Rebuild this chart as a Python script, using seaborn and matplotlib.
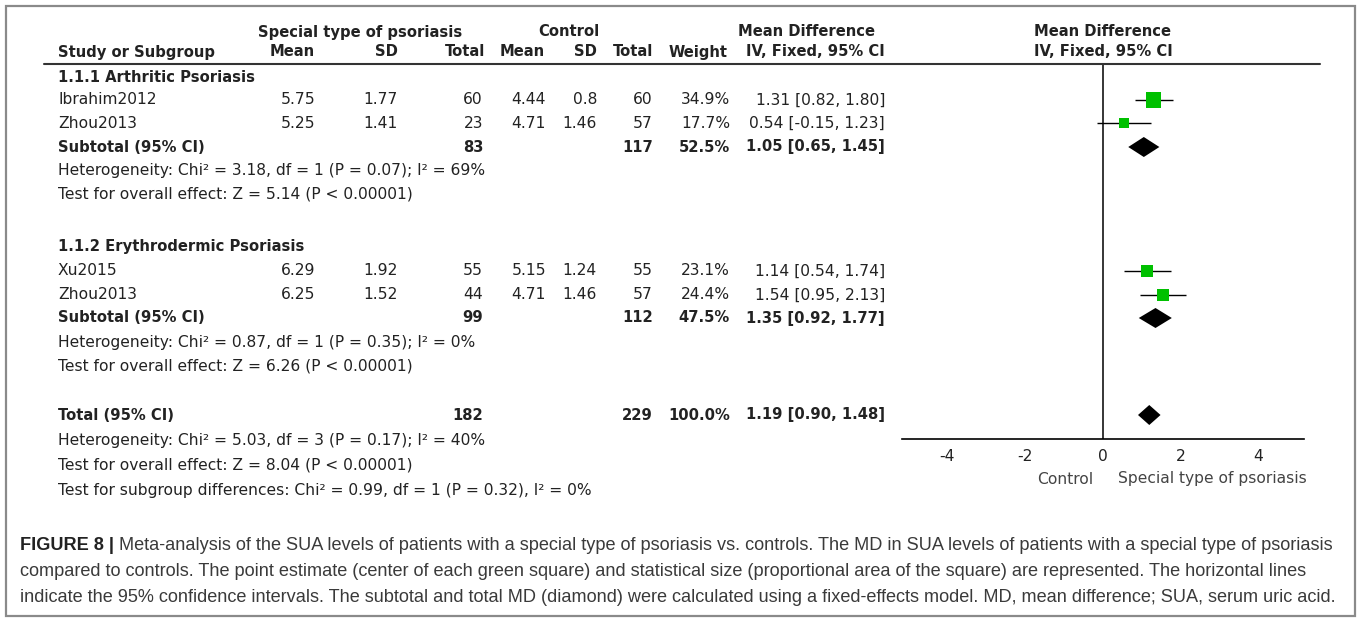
import matplotlib
matplotlib.use('Agg')
import matplotlib.pyplot as plt
import seaborn as sns
import pandas as pd
from matplotlib.lines import Line2D
from matplotlib.patches import Rectangle

# ---- data ----
groups = ['1.1.1 Arthritic Psoriasis', '1.1.2 Erythrodermic Psoriasis']
studies = ['Ibrahim2012', 'Zhou2013', 'Xu2015', 'Zhou2013']
study_group = [0, 0, 1, 1]
exp_mean = ['5.75', '5.25', '6.29', '6.25']
exp_sd = ['1.77', '1.41', '1.92', '1.52']
exp_n = [60, 23, 55, 44]
ctl_mean = ['4.44', '4.71', '5.15', '4.71']
ctl_sd = ['0.8', '1.46', '1.24', '1.46']
ctl_n = [60, 57, 55, 57]
weights = [34.9, 17.7, 23.1, 24.4]
md = [1.31, 0.54, 1.14, 1.54]
ci_lo = [0.82, -0.15, 0.54, 0.95]
ci_hi = [1.80, 1.23, 1.74, 2.13]

pooled_labels = ['Subtotal (95% CI)', 'Subtotal (95% CI)', 'Total (95% CI)']
pooled_exp_n = [83, 99, 182]
pooled_ctl_n = [117, 112, 229]
pooled_w = [52.5, 47.5, 100.0]
pooled_md = [1.05, 1.35, 1.19]
pooled_lo = [0.65, 0.92, 0.90]
pooled_hi = [1.45, 1.77, 1.48]

het_lines = [
    ['Heterogeneity: Chi\u00b2 = 3.18, df = 1 (P = 0.07); I\u00b2 = 69%',
     'Test for overall effect: Z = 5.14 (P < 0.00001)'],
    ['Heterogeneity: Chi\u00b2 = 0.87, df = 1 (P = 0.35); I\u00b2 = 0%',
     'Test for overall effect: Z = 6.26 (P < 0.00001)'],
    ['Heterogeneity: Chi\u00b2 = 5.03, df = 3 (P = 0.17); I\u00b2 = 40%',
     'Test for overall effect: Z = 8.04 (P < 0.00001)',
     'Test for subgroup differences: Chi\u00b2 = 0.99, df = 1 (P = 0.32), I\u00b2 = 0%'],
]

xticks = [-4, -2, 0, 2, 4]
favours = ['Control', 'Special type of psoriasis']

caption_bold = 'FIGURE 8 | '
caption = [
    'Meta-analysis of the SUA levels of patients with a special type of psoriasis vs. controls. '
    'The MD in SUA levels of patients with a special type of psoriasis',
    'compared to controls. The point estimate (center of each green square) and statistical size '
    '(proportional area of the square) are represented. The horizontal lines',
    'indicate the 95% confidence intervals. The subtotal and total MD (diamond) were calculated '
    'using a fixed-effects model. MD, mean difference; SUA, serum uric acid.',
]

# ---- layout (pixel rows of the 1357x618 picture) ----
W, H = 1357, 618
group_y = [78, 247]
study_y = [100, 123, 271, 295]
pooled_y = [147, 318, 415]
het_y = [[171, 194], [342, 366], [441, 465, 490]]

sns.set_style('white')
plt.rcParams['font.family'] = ['DejaVu Sans']

fig = plt.figure(figsize=(W / 100, H / 100), dpi=100)


def fx(px):
    return px / W


def fy(py):
    return 1 - py / H


TXT = '#222222'
FS = 11.2
BFS = 10.6


def put(px, py, s, ha='left', bold=False, color=TXT, size=FS):
    fig.text(fx(px), fy(py), s, ha=ha, va='center', fontsize=size,
             fontweight='bold' if bold else 'normal', color=color)


# outer frame
fig.add_artist(Rectangle((fx(6), fy(616)), fx(1349), 610 / H, transform=fig.transFigure,
                         fill=False, edgecolor='#8a8a8a', lw=1.6))

# headers
put(360, 32, 'Special type of psoriasis', ha='center', bold=True, size=BFS)
put(569, 32, 'Control', ha='center', bold=True, size=BFS)
put(807, 32, 'Mean Difference', ha='center', bold=True, size=BFS)
put(1103, 32, 'Mean Difference', ha='center', bold=True, size=BFS)
put(58, 52, 'Study or Subgroup', bold=True, size=BFS)
for x, s in zip([315, 398, 485, 545, 597, 653, 728, 885],
                ['Mean', 'SD', 'Total', 'Mean', 'SD', 'Total', 'Weight', 'IV, Fixed, 95% CI']):
    put(x, 52, s, ha='right', bold=True, size=BFS)
put(1103, 52, 'IV, Fixed, 95% CI', ha='center', bold=True, size=BFS)
fig.add_artist(Line2D([fx(44), fx(1320)], [fy(64), fy(64)], transform=fig.transFigure,
                      color='#333333', lw=1.5))

cols = [315, 398, 483, 546, 597, 653, 730, 885]

# study rows
for g in range(len(groups)):
    put(58, group_y[g], groups[g], bold=True, size=BFS)
for i in range(len(studies)):
    y = study_y[i]
    put(58, y, studies[i])
    vals = [exp_mean[i], exp_sd[i], str(exp_n[i]), ctl_mean[i], ctl_sd[i], str(ctl_n[i]),
            f'{weights[i]:.1f}%', f'{md[i]:.2f} [{ci_lo[i]:.2f}, {ci_hi[i]:.2f}]']
    for x, s in zip(cols, vals):
        put(x, y, s, ha='right')

# pooled rows
for k in range(len(pooled_labels)):
    y = pooled_y[k]
    put(58, y, pooled_labels[k], bold=True, size=BFS)
    put(cols[2], y, str(pooled_exp_n[k]), ha='right', bold=True, size=BFS)
    put(cols[5], y, str(pooled_ctl_n[k]), ha='right', bold=True, size=BFS)
    put(cols[6], y, f'{pooled_w[k]:.1f}%', ha='right', bold=True, size=BFS)
    put(cols[7], y, f'{pooled_md[k]:.2f} [{pooled_lo[k]:.2f}, {pooled_hi[k]:.2f}]',
        ha='right', bold=True, size=BFS)
    for s, yy in zip(het_lines[k], het_y[k]):
        put(58, yy, s)

# ---- forest plot ----
ax = fig.add_axes([fx(902), fy(439), fx(1304) - fx(902), (439 - 64) / H])
ax.set_xlim(-5.17, 5.17)
ax.set_ylim(439, 64)

ax.axvline(0, color='black', lw=1.1)
ax.hlines(study_y, ci_lo, ci_hi, color='black', lw=1.0)
df = pd.DataFrame({'md': md, 'y': study_y, 'w': weights})
sns.scatterplot(data=df, x='md', y='y', size='w',
                sizes={w: 3.4 * w for w in weights}, marker='s',
                color='#00c000', edgecolor='none', legend=False, ax=ax, zorder=3)
for k in range(len(pooled_md)):
    y = pooled_y[k]
    ax.fill([pooled_lo[k], pooled_md[k], pooled_hi[k], pooled_md[k]],
            [y, y - 10, y, y + 10], color='black', lw=0)

for side in ['top', 'right', 'left']:
    ax.spines[side].set_visible(False)
ax.spines['bottom'].set_color('black')
ax.spines['bottom'].set_linewidth(1.2)
ax.set_yticks([])
ax.set_xticks(xticks)
ax.set_xticklabels([str(t) for t in xticks])
ax.tick_params(axis='x', direction='inout', length=9, width=1.1, color='black',
               labelsize=FS, labelcolor=TXT, pad=3)
ax.set_xlabel('')
ax.set_ylabel('')
ax.patch.set_alpha(0)

put(1065, 479, favours[0], ha='center', color='#444444')
put(1212, 479, favours[1], ha='center', color='#444444')

# ---- caption ----
CAP = '#3a3a3a'
CFS = 13.1
cap_font = ['Liberation Sans', 'DejaVu Sans']
fig.canvas.draw()
r = fig.canvas.get_renderer()
t = fig.text(fx(20), fy(545), caption_bold, ha='left', va='center', fontsize=CFS,
             fontweight='bold', color='#222222', family=cap_font)
bb = t.get_window_extent(renderer=r)
fig.text(bb.x1 / W, fy(545), caption[0], ha='left', va='center', fontsize=CFS, color=CAP,
         family=cap_font)
fig.text(fx(20), fy(571), caption[1], ha='left', va='center', fontsize=CFS, color=CAP,
         family=cap_font)
fig.text(fx(20), fy(597), caption[2], ha='left', va='center', fontsize=CFS, color=CAP,
         family=cap_font)

fig.savefig('out.png', dpi=100)
